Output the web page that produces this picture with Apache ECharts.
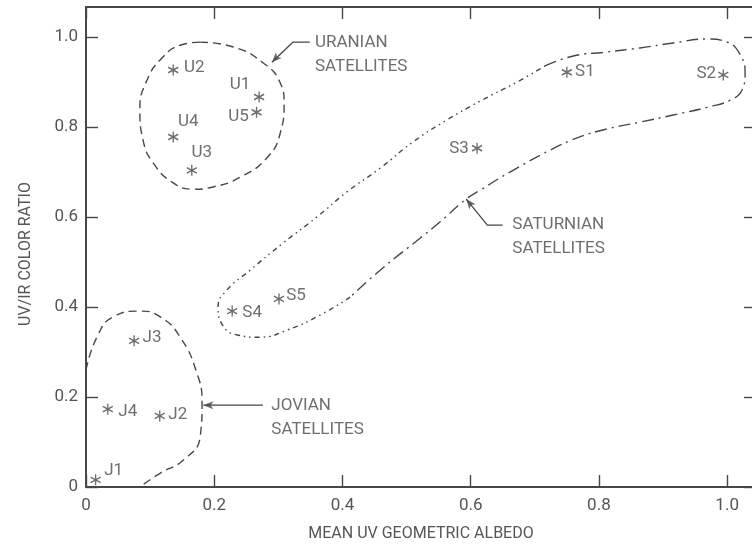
<!DOCTYPE html>
<html><head><meta charset="utf-8">
<script src="https://cdn.jsdelivr.net/npm/echarts@6/dist/echarts.min.js"></script>
<style>html,body{margin:0;padding:0;background:#fff}#c{width:752px;height:546px}</style>
</head><body><div id="c"></div>
<script>
// ---- data ----
const names      = ['U1','U2','U3','U4','U5','J1','J2','J3','J4','S1','S2','S3','S4','S5'];
const albedo     = [0.270,0.136,0.165,0.136,0.266,0.015,0.115,0.075,0.034,0.750,0.994,0.610,0.228,0.301];
const colorRatio = [0.867,0.927,0.704,0.778,0.833,0.016,0.158,0.325,0.173,0.922,0.916,0.753,0.391,0.418];
const xTickValues = [0,0.2,0.4,0.6,0.8,1.0];
const yTickValues = [0,0.2,0.4,0.6,0.8,1.0];
const xTitle = 'MEAN UV GEOMETRIC ALBEDO';
const yTitle = 'UV/IR COLOR RATIO';

// group outlines (data coordinates)
const uranianOutline = [[0.178,0.989],[0.230,0.978],[0.277,0.942],[0.303,0.898],[0.309,0.853],[0.303,0.787],[0.283,0.733],[0.241,0.689],[0.198,0.667],[0.167,0.662],[0.136,0.676],[0.105,0.720],[0.089,0.771],[0.084,0.838],[0.095,0.904],[0.120,0.956],[0.147,0.982],[0.178,0.989]];
const jovianOutline = [[0.0,0.26],[0.017,0.333],[0.042,0.378],[0.084,0.391],[0.116,0.378],[0.147,0.333],[0.173,0.253],[0.181,0.187],[0.178,0.111],[0.152,0.060],[0.116,0.031],[0.084,0.0]];
const saturnianOutlineA = [[0.412,0.422],[0.365,0.382],[0.314,0.349],[0.271,0.333],[0.236,0.338],[0.212,0.362],[0.206,0.400],[0.220,0.438],[0.256,0.482],[0.307,0.542],[0.360,0.600],[0.407,0.656],[0.459,0.709],[0.510,0.767],[0.563,0.816],[0.615,0.858],[0.672,0.900],[0.716,0.936]];
const saturnianOutlineB = [[0.716,0.936],[0.760,0.958],[0.813,0.967],[0.864,0.976],[0.916,0.987],[0.969,0.996],[1.000,0.989],[1.020,0.962],[1.028,0.920],[1.023,0.882],[1.005,0.860],[0.969,0.844],[0.916,0.827],[0.864,0.811],[0.813,0.796],[0.766,0.776],[0.724,0.749],[0.666,0.704],[0.615,0.660],[0.591,0.638],[0.552,0.589],[0.521,0.553],[0.463,0.487],[0.412,0.422]];

// annotation leaders (tip first)
const uranianLeader   = [[0.290,0.944],[0.323,0.989],[0.349,0.989]];
const saturnianLeader = [[0.593,0.640],[0.626,0.582],[0.650,0.582]];
const jovianLeader    = [[0.183,0.182],[0.276,0.182]];
const groupNames = ['URANIAN\nSATELLITES','SATURNIAN\nSATELLITES','JOVIAN\nSATELLITES'];
const groupTextAnchor = [[0.357,0.961],[0.665,0.556],[0.289,0.155]];

// ---- styling (not data) ----
const INK = '#474747';
const FONT = 'Roboto';
const labelOffsets = {U1:[-19,-12],U2:[21,-2],U3:[10,-18],U4:[15,-15],U5:[-18,4],J1:[18,-9],J2:[18,-1],J3:[18,-3],J4:[20,3],S1:[18,0],S2:[-17,-1],S3:[-18,0],S4:[20,2],S5:[17,-3]};
const leaderRotations = [136,39,90];
const asterisk = 'path://M5 0L5 10M0.67 2.5L9.33 7.5M0.67 7.5L9.33 2.5';

const fmt = v => v === 0 ? '0' : v.toFixed(1);

const points = names.map((n,i) => ({
  name: n, value: [albedo[i], colorRatio[i]],
  label: {offset: labelOffsets[n]}
}));

function outline(data, dash) {
  return {type:'line', data, smooth:0.5, showSymbol:false, symbol:'none', silent:true,
    lineStyle:{color:INK, width:1.4, type:dash}, z:2};
}
function leader(data) {
  return {type:'line', data, showSymbol:false, symbol:'none', silent:true,
    lineStyle:{color:INK, width:1.3, type:'solid'}, z:3};
}

const tickCommon = {inside:true, length:12, lineStyle:{color:INK, width:1.4}};
const axisLineCommon = {show:true, onZero:false, lineStyle:{color:INK, width:2}};

const option = {
  animation:false,
  backgroundColor:'#fff',
  grid:{left:86, right:-4, top:7, bottom:59, outerBoundsMode:'none', containLabel:false},
  xAxis:[{
    type:'value', min:0, max:1.045, interval:0.2, position:'bottom',
    axisLine:axisLineCommon, axisTick:Object.assign({}, tickCommon, {customValues:xTickValues}), splitLine:{show:false},
    axisLabel:{customValues:xTickValues, formatter:fmt, margin:10, color:'#555', fontFamily:FONT, fontSize:17},
    name:xTitle, nameLocation:'middle', nameGap:39,
    nameTextStyle:{color:'#555', fontFamily:FONT, fontSize:16}
  },{
    type:'value', min:0, max:1.045, interval:0.2, position:'top',
    axisLine:axisLineCommon, axisTick:Object.assign({}, tickCommon, {customValues:xTickValues}), axisLabel:{show:false}, splitLine:{show:false}
  }],
  yAxis:[{
    type:'value', min:0, max:1.067, interval:0.2, position:'left',
    axisLine:axisLineCommon, axisTick:Object.assign({}, tickCommon, {customValues:yTickValues}), splitLine:{show:false},
    axisLabel:{customValues:yTickValues, formatter:fmt, margin:8, color:'#555', fontFamily:FONT, fontSize:17},
    name:yTitle, nameLocation:'middle', nameGap:52,
    nameTextStyle:{color:'#555', fontFamily:FONT, fontSize:16, padding:[0,0,0,-14]}
  },{
    type:'value', min:0, max:1.067, interval:0.2, position:'right',
    axisLine:axisLineCommon, axisTick:Object.assign({}, tickCommon, {customValues:yTickValues}), axisLabel:{show:false}, splitLine:{show:false}
  }],
  series:[
    outline(uranianOutline, [8,5]),
    outline(jovianOutline, [8,5]),
    outline(saturnianOutlineA, [5,4,1.5,4,1.5,4]),
    outline(saturnianOutlineB, [12,5,2,5]),
    leader(uranianLeader),
    leader(saturnianLeader),
    leader(jovianLeader),
    {
      type:'scatter', silent:true, z:4,
      data:[uranianLeader[0], saturnianLeader[0], jovianLeader[0]].map((p,i)=>({value:p, symbolRotate:leaderRotations[i]})),
      symbol:'arrow', symbolSize:[6,10], itemStyle:{color:INK}
    },
    {
      type:'scatter', silent:true, z:4,
      data:groupTextAnchor.map((p,i)=>({name:groupNames[i], value:p})),
      symbolSize:0,
      label:{show:true, position:'right', distance:0, formatter:p=>p.name,
        color:'#4a4a4a', fontFamily:FONT, fontSize:17, lineHeight:24, align:'left'}
    },
    {
      type:'scatter', data:points, silent:true, z:5,
      symbol:asterisk, symbolSize:[10,11],
      itemStyle:{color:'transparent', borderColor:INK, borderWidth:1.4},
      label:{show:true, position:'inside', formatter:p=>p.name,
        color:'#4a4a4a', fontFamily:FONT, fontSize:17}
    }
  ]
};
const chart = echarts.init(document.getElementById('c'), null, {renderer:'canvas'});
chart.setOption(option);
</script></body></html>
